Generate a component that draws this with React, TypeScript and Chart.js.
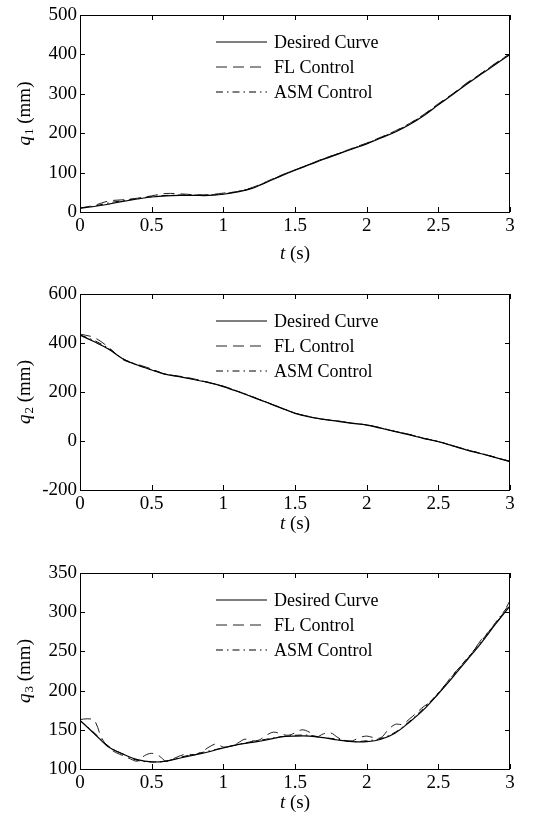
import React, { useEffect, useRef } from "react";
import { Chart, registerables } from "chart.js";
Chart.register(...registerables);

// time grids (s)
const T10 = [0, 0.1, 0.2, 0.3, 0.4, 0.5, 0.6, 0.7, 0.8, 0.9, 1.0, 1.1, 1.2, 1.3, 1.4, 1.5, 1.6, 1.7, 1.8, 1.9, 2.0, 2.1, 2.2, 2.3, 2.4, 2.5, 2.6, 2.7, 2.8, 2.9, 3.0];
const T05 = [0, 0.05, 0.1, 0.15, 0.2, 0.25, 0.3, 0.35, 0.4, 0.45, 0.5, 0.55, 0.6, 0.65, 0.7, 0.75, 0.8, 0.85, 0.9, 0.95, 1.0, 1.05, 1.1, 1.15, 1.2, 1.25, 1.3, 1.35, 1.4, 1.45, 1.5, 1.55, 1.6, 1.65, 1.7, 1.75, 1.8, 1.85, 1.9, 1.95, 2.0, 2.05, 2.1, 2.15, 2.2, 2.25, 2.3, 2.35, 2.4, 2.45, 2.5, 2.55, 2.6, 2.65, 2.7, 2.75, 2.8, 2.85, 2.9, 2.95, 3.0];

// q1 (mm)
const Q1_DESIRED = [10, 14, 20, 27, 33, 38, 41, 42, 42, 42, 45, 51, 60, 75, 91, 106, 120, 134, 147, 160, 173, 188, 203, 222, 245, 272, 298, 325, 350, 375, 400];
const Q1_FL = [10, 17, 28, 31, 35, 41, 47, 46, 44, 44, 48, 52, 62, 77, 93, 107, 121, 136, 148, 162, 175, 190, 206, 225, 248, 275, 300, 328, 352, 378, 402];
const Q1_ASM = [10, 15, 23, 29, 34, 39, 42, 43, 43, 43, 46, 52, 61, 76, 92, 107, 121, 135, 148, 161, 174, 189, 205, 224, 247, 273, 299, 326, 352, 377, 401];

// q2 (mm)
const Q2_DESIRED = [432, 405, 375, 335, 310, 290, 272, 262, 250, 238, 222, 202, 180, 158, 135, 113, 98, 88, 80, 72, 65, 52, 38, 25, 10, -3, -20, -37, -52, -68, -84];
const Q2_FL = [436, 422, 382, 332, 313, 294, 271, 264, 253, 238, 224, 203, 182, 158, 137, 114, 100, 88, 82, 73, 66, 54, 39, 27, 11, -2, -19, -36, -51, -67, -83];
const Q2_ASM = [433, 410, 378, 336, 311, 291, 273, 263, 251, 239, 223, 203, 181, 159, 136, 114, 99, 89, 81, 73, 66, 53, 39, 26, 11, -2, -19, -36, -51, -67, -83];

// q3 (mm)
const Q3_DESIRED = [162, 145, 128, 119, 112, 109, 110, 114, 118, 122, 127, 131, 134, 137, 141, 142, 142, 140, 137, 135, 135, 138, 146, 160, 176, 196, 217, 239, 261, 285, 308];
const Q3_FL = [163, 164, 162, 140, 127, 121, 117, 113, 110, 117, 120, 117, 110, 113, 117, 119, 118, 122, 128, 132, 128, 129, 133, 138, 136, 137, 143, 147, 145, 143, 146, 150, 147, 141, 145, 146, 140, 136, 136, 140, 142, 140, 140, 150, 157, 157, 164, 172, 180, 186, 197, 208, 220, 230, 240, 252, 265, 275, 286, 298, 315];
const Q3_ASM = [162, 146, 129, 119, 111, 109, 110, 115, 119, 123, 127, 131, 135, 138, 141, 143, 143, 140, 138, 135, 136, 139, 147, 161, 178, 197, 219, 241, 263, 287, 311];

const LEGEND_LABELS = ["Desired Curve", "FL Control", "ASM Control"];
const X_TITLE = ["t", " (s)"];
const Y_TITLE = ["q", " (mm)"];

const FONT = "Liberation Serif";

type PanelSpec = {
  sub: string;
  yMin: number;
  yMax: number;
  yStep: number;
  desired: number[];
  fl: number[];
  flT: number[];
  asm: number[];
  padTop: number;
  xAxisH: number;
  xTitleOff: number;
};

const PANELS: PanelSpec[] = [
  { sub: "1", yMin: 0, yMax: 500, yStep: 100, desired: Q1_DESIRED, fl: Q1_FL, flT: T10, asm: Q1_ASM, padTop: 15, xAxisH: 62, xTitleOff: 42 },
  { sub: "2", yMin: -200, yMax: 600, yStep: 200, desired: Q2_DESIRED, fl: Q2_FL, flT: T10, asm: Q2_ASM, padTop: 20, xAxisH: 58, xTitleOff: 34 },
  { sub: "3", yMin: 100, yMax: 350, yStep: 50, desired: Q3_DESIRED, fl: Q3_FL, flT: T05, asm: Q3_ASM, padTop: 25, xAxisH: 53, xTitleOff: 34 },
];

const decorPlugin = {
  id: "decor",
  afterDraw(chart: any, _args: any, opts: any) {
    const ctx = chart.ctx;
    const ca = chart.chartArea;
    const xs = chart.scales.x;
    const ys = chart.scales.y;
    ctx.save();
    // frame
    ctx.strokeStyle = "#000";
    ctx.lineWidth = 1;
    ctx.strokeRect(Math.round(ca.left) + 0.5, Math.round(ca.top) + 0.5, Math.round(ca.right - ca.left) - 1, Math.round(ca.bottom - ca.top));
    // inward ticks
    const TL = 5;
    ctx.beginPath();
    xs.ticks.forEach((t: any) => {
      const px = Math.round(xs.getPixelForValue(t.value)) + 0.5;
      ctx.moveTo(px, ca.bottom);
      ctx.lineTo(px, ca.bottom - TL);
      ctx.moveTo(px, ca.top);
      ctx.lineTo(px, ca.top + TL);
    });
    ys.ticks.forEach((t: any) => {
      const py = Math.round(ys.getPixelForValue(t.value)) + 0.5;
      ctx.moveTo(ca.left, py);
      ctx.lineTo(ca.left + TL, py);
      ctx.moveTo(ca.right, py);
      ctx.lineTo(ca.right - TL, py);
    });
    ctx.stroke();

    // legend inside plot
    const rows = [27, 52, 77];
    chart.data.datasets.forEach((ds: any, i: number) => {
      const y = ca.top + rows[i];
      ctx.beginPath();
      ctx.setLineDash(ds.borderDash || []);
      ctx.strokeStyle = ds.borderColor;
      ctx.lineWidth = ds.borderWidth;
      ctx.moveTo(ca.left + 136, y);
      ctx.lineTo(ca.left + 187, y);
      ctx.stroke();
      ctx.setLineDash([]);
      ctx.fillStyle = "#000";
      ctx.font = `18px "${FONT}"`;
      ctx.textBaseline = "middle";
      ctx.textAlign = "left";
      ctx.fillText(ds.label, ca.left + 194, y + 1);
    });

    // x title: italic t + " (s)"
    ctx.fillStyle = "#000";
    ctx.textBaseline = "middle";
    ctx.textAlign = "left";
    const italic = `italic 19px "${FONT}"`;
    const normal = `19px "${FONT}"`;
    ctx.font = italic;
    const w1 = ctx.measureText(X_TITLE[0]).width;
    ctx.font = normal;
    const w2 = ctx.measureText(X_TITLE[1]).width;
    const cx = (ca.left + ca.right) / 2;
    const ty = ca.bottom + opts.xTitleOff;
    const sx = cx - (w1 + w2) / 2;
    ctx.font = italic;
    ctx.fillText(X_TITLE[0], sx, ty);
    ctx.font = normal;
    ctx.fillText(X_TITLE[1], sx + w1, ty);

    // y title: italic q, subscript, " (mm)" rotated
    ctx.save();
    ctx.translate(25, (ca.top + ca.bottom) / 2);
    ctx.rotate(-Math.PI / 2);
    const subFont = `13px "${FONT}"`;
    ctx.font = italic;
    const a = ctx.measureText(Y_TITLE[0]).width;
    ctx.font = subFont;
    const b = ctx.measureText(opts.sub).width;
    ctx.font = normal;
    const c = ctx.measureText(Y_TITLE[1]).width;
    let px = -(a + b + c + 1) / 2;
    ctx.font = italic;
    ctx.fillText(Y_TITLE[0], px, 0);
    px += a;
    ctx.font = subFont;
    ctx.fillText(opts.sub, px + 1, 5);
    px += b + 1;
    ctx.font = normal;
    ctx.fillText(Y_TITLE[1], px, 0);
    ctx.restore();

    ctx.restore();
  },
};

const fmt = (v: any) => String(+Number(v).toFixed(2));

function Panel({ spec }: { spec: PanelSpec }) {
  const ref = useRef<HTMLCanvasElement | null>(null);
  useEffect(() => {
    if (!ref.current) return;
    const toPts = (ts: number[], vs: number[]) => ts.map((t, i) => ({ x: t, y: vs[i] }));
    const chart = new Chart(ref.current, {
      type: "line",
      data: {
        datasets: [
          { label: LEGEND_LABELS[0], data: toPts(T10, spec.desired), borderColor: "#000", borderWidth: 1.2, borderDash: [], pointRadius: 0, tension: 0.35, fill: false },
          { label: LEGEND_LABELS[1], data: toPts(spec.flT, spec.fl), borderColor: "#222", borderWidth: 1, borderDash: [11, 6], pointRadius: 0, tension: 0.35, fill: false },
          { label: LEGEND_LABELS[2], data: toPts(T10, spec.asm), borderColor: "#000", borderWidth: 1, borderDash: [7, 4, 1.5, 4], pointRadius: 0, tension: 0.35, fill: false },
        ],
      },
      options: {
        animation: false,
        responsive: false,
        maintainAspectRatio: false,
        layout: { padding: { top: spec.padTop, left: 0, right: 42, bottom: 0 } },
        plugins: {
          legend: { display: false },
          tooltip: { enabled: false },
          decor: { sub: spec.sub, xTitleOff: spec.xTitleOff },
        } as any,
        scales: {
          x: {
            type: "linear",
            min: 0,
            max: 3,
            grid: { display: false, drawTicks: false },
            border: { display: false },
            ticks: { stepSize: 0.5, color: "#000", font: { family: FONT, size: 19 }, padding: 3, maxRotation: 0, autoSkip: false, callback: fmt },
            afterFit: (s: any) => { s.height = spec.xAxisH; },
          },
          y: {
            type: "linear",
            min: spec.yMin,
            max: spec.yMax,
            grid: { display: false, drawTicks: false },
            border: { display: false },
            ticks: { stepSize: spec.yStep, color: "#000", font: { family: FONT, size: 19 }, padding: 3, callback: fmt },
            afterFit: (s: any) => { s.width = 80; },
          },
        },
      },
      plugins: [decorPlugin],
    } as any);
    return () => chart.destroy();
  }, [spec]);
  return <canvas ref={ref} width={552} height={274} style={{ display: "block", width: 552, height: 274 }} />;
}

export default function App() {
  return (
    <div style={{ position: "absolute", left: 0, top: 0, width: 552, height: 822, background: "#fff" }}>
      {PANELS.map((p, i) => (
        <Panel key={i} spec={p} />
      ))}
    </div>
  );
}
